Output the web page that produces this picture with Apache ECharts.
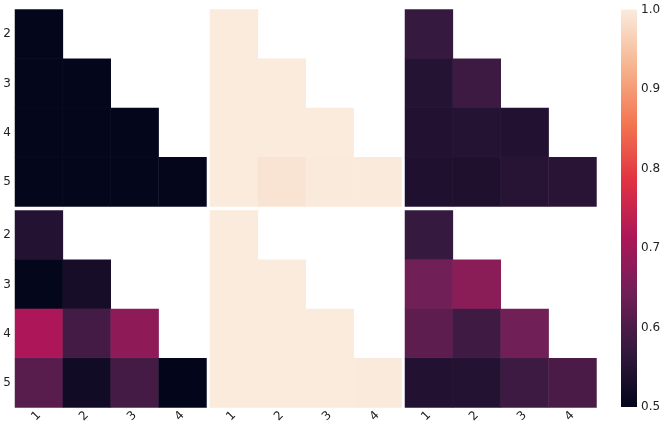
<!DOCTYPE html>
<html><head><meta charset="utf-8">
<script src="https://cdn.jsdelivr.net/npm/echarts@6/dist/echarts.min.js"></script>
<style>html,body{margin:0;padding:0;background:#fff}#c{width:664px;height:429px}</style>
</head><body><div id="c"></div>
<script>
const xCats = ['1','2','3','4'];
const yCats = ['2','3','4','5'];
const cbTicks = [0.5,0.6,0.7,0.8,0.9,1.0];
// lower-triangular matrices, row = yCats, col = xCats
const panelTL = [[0.502],[0.502,0.502],[0.502,0.502,0.502],[0.502,0.502,0.502,0.503]];
const panelTM = [[1.0],[1.0,1.0],[1.0,1.0,1.0],[1.0,0.991,0.999,0.999]];
const panelTR = [[0.571],[0.549,0.58],[0.544,0.549,0.544],[0.541,0.540,0.551,0.555]];
const panelBL = [[0.545],[0.502,0.53],[0.714,0.59,0.678],[0.614,0.521,0.59,0.50]];
const panelBM = [[1.0],[1.0,1.0],[1.0,1.0,1.0],[1.0,1.0,1.0,0.999]];
const panelBR = [[0.572],[0.644,0.673],[0.621,0.583,0.644],[0.544,0.545,0.58,0.597]];
const rocket = ['#03051a','#35193e','#701f57','#ad1759','#e13342','#f37651','#f6b48f','#faebdd'];

const panels = [panelTL,panelTM,panelTR,panelBL,panelBM,panelBR];
const lefts = [15,210,405];
const tops = [9.5,210.5];
const font = 'DejaVu Sans';
const grids=[],xAxes=[],yAxes=[],series=[];
panels.forEach((m,i)=>{
  const r=Math.floor(i/3), c=i%3;
  grids.push({left:lefts[c],top:tops[r],width:191.5,height:197});
  xAxes.push({type:'category',data:xCats,gridIndex:i,axisLine:{show:false},axisTick:{show:false},
    axisLabel:{show:r===1,rotate:45,fontFamily:font,fontSize:12,color:'#222',margin:6},splitLine:{show:false}});
  yAxes.push({type:'category',data:yCats,gridIndex:i,inverse:true,axisLine:{show:false},axisTick:{show:false},
    axisLabel:{show:c===0,fontFamily:font,fontSize:12,color:'#222',margin:4},splitLine:{show:false}});
  const data=[];
  m.forEach((row,ri)=>row.forEach((v,ci)=>data.push([ci,ri,v])));
  series.push({type:'heatmap',xAxisIndex:i,yAxisIndex:i,data:data,
    itemStyle:{borderWidth:0.5,borderColor:'rgba(255,255,255,0.06)'},emphasis:{disabled:true}});
});
// colorbar
grids.push({left:621,top:9.5,width:16,height:397.5});
xAxes.push({type:'category',data:['cb'],gridIndex:6,show:false});
yAxes.push({type:'value',gridIndex:6,min:0.5,max:1.0,interval:0.1,position:'right',
  axisLine:{show:false},axisTick:{show:false},splitLine:{show:false},
  axisLabel:{fontFamily:font,fontSize:12,color:'#222',margin:4,formatter:v=>v.toFixed(1)}});
series.push({type:'bar',xAxisIndex:6,yAxisIndex:6,data:[1.0],barWidth:'100%',silent:true,
  itemStyle:{color:new echarts.graphic.LinearGradient(0,1,0,0,rocket.map((c,k)=>({offset:k/(rocket.length-1),color:c})))}});

const chart=echarts.init(document.getElementById('c'),null,{renderer:'canvas'});
chart.setOption({animation:false,backgroundColor:'#fff',grid:grids,xAxis:xAxes,yAxis:yAxes,series:series,
  visualMap:{show:false,type:'continuous',min:0.5,max:1.0,seriesIndex:[0,1,2,3,4,5],inRange:{color:rocket}}});
</script></body></html>
